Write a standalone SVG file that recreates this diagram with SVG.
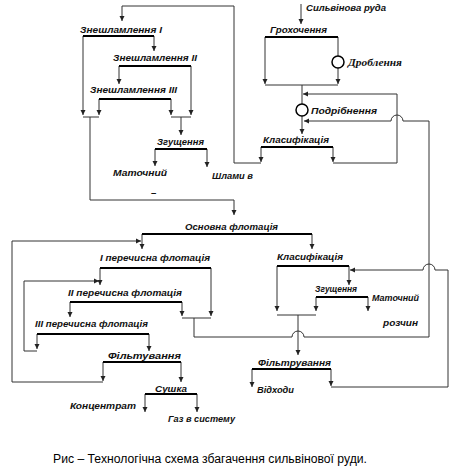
<svg xmlns="http://www.w3.org/2000/svg" width="450" height="466" viewBox="0 0 450 466">
<defs>
<marker id="ah" markerWidth="6" markerHeight="6" refX="5" refY="3" orient="auto" markerUnits="userSpaceOnUse">
<path d="M0,0.5 L5,3 L0,5.5 Z" fill="#222"/>
</marker>
<style>
.lbl{font-family:"Liberation Sans",Arial,sans-serif;font-size:9.5px;font-weight:bold;font-style:italic;fill:#111}
.ser{font-family:"Liberation Serif","Times New Roman",serif;font-size:10.5px;font-weight:bold;font-style:italic;fill:#111}
.cap{font-family:"Liberation Sans",Arial,sans-serif;font-size:12.5px;fill:#000}
.bar{stroke:#000;stroke-width:2;fill:none}
.ln{stroke:#333;stroke-width:1;fill:none}
.ar{stroke:#333;stroke-width:1;fill:none;marker-end:url(#ah)}
.cir{stroke:#000;stroke-width:1.5;fill:#fff}
</style>
</defs>
<rect width="450" height="466" fill="#fff"/>

<g id="connectors">
<path class="ar" d="M301,4 V24"/>
<path class="ln" d="M338,37 V56"/>
<path class="ar" d="M338,68 V84"/>
<path class="ar" d="M265,37 V84"/>
<path class="ln" d="M265,85 H338"/>
<path class="ln" d="M302,85 V104"/>
<path class="ar" d="M302,116 V134"/>
<path class="ar" d="M333,147 V162"/>
<path class="ar" d="M333,163 H397 V94 H303"/>
<path class="ar" d="M261,147 V162"/>
<path class="ar" d="M261,163 H234 V6 H122 V21"/>
<path class="ar" d="M154,36 V51"/>
<path class="ar" d="M83,36 V115"/>
<path class="ar" d="M119,66 V84"/>
<path class="ar" d="M191,66 V115"/>
<path class="ar" d="M99,99 V115"/>
<path class="ar" d="M171,99 V115"/>
<path class="ln" d="M83,117 H99"/>
<path class="ar" d="M90,117 V200 H234 V215"/>
<path class="ln" d="M171,117 H191"/>
<path class="ar" d="M181,117 V135"/>
<path class="ar" d="M155,149 V166"/>
<path class="ar" d="M207,149 V167"/>
<path class="ar" d="M142,234 V249"/>
<path class="ar" d="M312,234 V249"/>
<path class="ar" d="M100,268 V285"/>
<path class="ar" d="M211,268 V316"/>
<path class="ar" d="M70,302 V317"/>
<path class="ar" d="M182,302 V316"/>
<path class="ln" d="M182,318 H211"/>
<path class="ar" d="M194,318 V337 H292 A6,6 0 0 1 304,337 H429 V121 H403 A6,6 0 0 0 391,121 H304"/>
<path class="ar" d="M37,334 V349"/>
<path class="ar" d="M37,351 H24 V281 H99"/>
<path class="ar" d="M149,334 V351"/>
<path class="ar" d="M103,362 V381"/>
<path class="ar" d="M103,382 H12 V241 H141"/>
<path class="ar" d="M181,362 V382"/>
<path class="ar" d="M145,394 V412"/>
<path class="ar" d="M197,394 V412"/>
<path class="ar" d="M349,266 V285"/>
<path class="ar" d="M277,266 V311"/>
<path class="ar" d="M316,297 V311"/>
<path class="ar" d="M368,297 V311"/>
<path class="ln" d="M277,315 H316"/>
<path class="ar" d="M298,315 V355"/>
<path class="ar" d="M252,369 V387"/>
<path class="ar" d="M331,369 V386"/>
<path class="ar" d="M331,387 H448 V270 H435 A6,6 0 0 0 423,270 H350"/>
</g>

<g id="n-ruda"><text class="lbl" x="306" y="11" textLength="80" lengthAdjust="spacingAndGlyphs">Сильвінова руда</text></g>
<g id="n-grokhochennia"><text class="lbl" x="270" y="32.5" textLength="57" lengthAdjust="spacingAndGlyphs">Грохочення</text><path class="bar" d="M265,37 H338"/></g>
<g id="n-droblennia"><circle class="cir" cx="338" cy="62" r="6"/><text class="ser" x="348" y="66" textLength="54" lengthAdjust="spacingAndGlyphs">Дроблення</text></g>
<g id="n-podribnennia"><circle class="cir" cx="302" cy="110" r="6"/><text class="lbl" x="311" y="113.5" textLength="66" lengthAdjust="spacingAndGlyphs">Подрібнення</text></g>
<g id="n-klas1"><text class="lbl" x="263" y="142.5" textLength="66" lengthAdjust="spacingAndGlyphs">Класифікація</text><path class="bar" d="M261,147 H333"/></g>
<g id="n-zn1"><text class="lbl" x="80" y="32.5" textLength="82" lengthAdjust="spacingAndGlyphs">Знешламлення I</text><path class="bar" d="M83,36 H154"/></g>
<g id="n-zn2"><text class="lbl" x="113" y="60.5" textLength="84" lengthAdjust="spacingAndGlyphs">Знешламлення II</text><path class="bar" d="M119,66 H191"/></g>
<g id="n-zn3"><text class="lbl" x="90" y="92.5" textLength="87" lengthAdjust="spacingAndGlyphs">Знешламлення III</text><path class="bar" d="M99,99 H171"/></g>
<g id="n-zg1"><text class="lbl" x="157" y="144.5" textLength="47" lengthAdjust="spacingAndGlyphs">Згущення</text><path class="bar" d="M155,149 H207"/></g>
<g id="n-mat1"><text class="lbl" x="113" y="175.5" textLength="54" lengthAdjust="spacingAndGlyphs">Маточний</text></g>
<g id="n-shlamy"><text class="lbl" x="212" y="178.5" textLength="41" lengthAdjust="spacingAndGlyphs">Шлами в</text></g>
<g id="n-dash"><text class="lbl" x="151" y="196">–</text></g>
<g id="n-osn"><text class="lbl" x="185" y="229.5" textLength="93" lengthAdjust="spacingAndGlyphs">Основна флотація</text><path class="bar" d="M142,234 H312"/></g>
<g id="n-p1"><text class="lbl" x="100" y="260.5" textLength="110" lengthAdjust="spacingAndGlyphs">I перечисна флотація</text><path class="bar" d="M100,268 H211"/></g>
<g id="n-p2"><text class="lbl" x="68" y="295.5" textLength="114" lengthAdjust="spacingAndGlyphs">II перечисна флотація</text><path class="bar" d="M70,302 H182"/></g>
<g id="n-p3"><text class="lbl" x="35" y="326.5" textLength="113" lengthAdjust="spacingAndGlyphs">III перечисна флотація</text><path class="bar" d="M37,334 H149"/></g>
<g id="n-filtuv"><text class="lbl" x="108" y="358.5" textLength="73" lengthAdjust="spacingAndGlyphs">Фільтування</text><path class="bar" d="M103,362 H181"/></g>
<g id="n-sushka"><text class="lbl" x="155" y="391.5" textLength="32" lengthAdjust="spacingAndGlyphs">Сушка</text><path class="bar" d="M145,394 H197"/></g>
<g id="n-konc"><text class="lbl" x="70" y="408.5" textLength="66" lengthAdjust="spacingAndGlyphs">Концентрат</text></g>
<g id="n-gaz"><text class="lbl" x="168" y="421.5" textLength="67" lengthAdjust="spacingAndGlyphs">Газ в систему</text></g>
<g id="n-klas2"><text class="lbl" x="277" y="259.5" textLength="66" lengthAdjust="spacingAndGlyphs">Класифікація</text><path class="bar" d="M277,266 H349"/></g>
<g id="n-zg2"><text class="lbl" x="315" y="291.5" textLength="42" lengthAdjust="spacingAndGlyphs">Згущення</text><path class="bar" d="M316,297 H368"/></g>
<g id="n-mat2"><text class="lbl" x="372" y="300.5" textLength="47" lengthAdjust="spacingAndGlyphs">Маточний</text></g>
<g id="n-rozchyn"><text class="lbl" x="383" y="325.5" textLength="35" lengthAdjust="spacingAndGlyphs">розчин</text></g>
<g id="n-filtr"><text class="lbl" x="258" y="365.5" textLength="73" lengthAdjust="spacingAndGlyphs">Фільтрування</text><path class="bar" d="M252,369 H331"/></g>
<g id="n-vidkhody"><text class="lbl" x="257" y="392.5" textLength="37" lengthAdjust="spacingAndGlyphs">Відходи</text></g>

<g id="caption"><text class="cap" x="53" y="463" textLength="314" lengthAdjust="spacingAndGlyphs">Рис – Технологічна схема збагачення сильвінової руди.</text></g>
</svg>
